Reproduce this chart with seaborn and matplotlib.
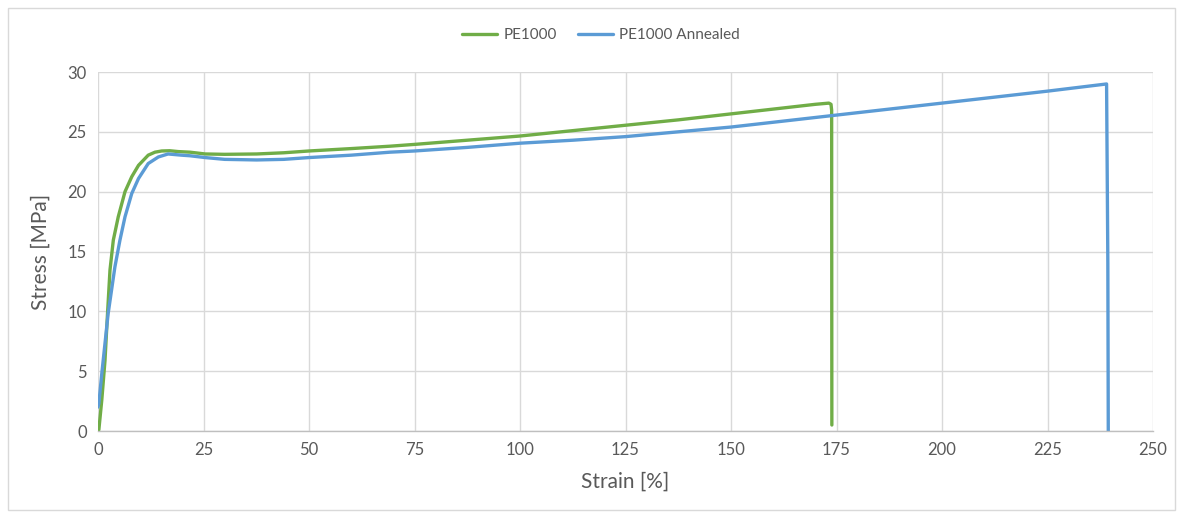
import numpy as np
import pandas as pd
import matplotlib
matplotlib.use("Agg")
import matplotlib.pyplot as plt
import seaborn as sns
from matplotlib.patches import Rectangle

# Data
pe_strain = [0.0, 0.2, 0.9, 1.66, 1.75, 2.3, 2.84, 3.63, 4.8, 6.4, 8.0, 9.6, 11.9, 13.5,
             15.1, 17.0, 19.0, 21.8, 25.4, 30.0, 37.6, 44.0, 50.0, 60.0, 69.2, 75.0, 87.5,
             100.0, 112.5, 125.0, 137.5, 150.0, 162.5, 170.0, 173.2, 173.7, 173.85, 173.9]
pe_stress = [0.0, 0.1, 2.6, 5.9, 6.5, 10.1, 13.45, 15.95, 17.9, 20.0, 21.25, 22.2, 23.05, 23.3,
             23.4, 23.42, 23.35, 23.3, 23.15, 23.12, 23.15, 23.25, 23.4, 23.6, 23.8, 23.95, 24.3,
             24.65, 25.1, 25.55, 26.0, 26.5, 27.0, 27.3, 27.4, 27.3, 26.8, 0.5]

ann_strain = [0.0, 0.2, 0.9, 2.4, 4.0, 5.2, 6.4, 8.0, 9.6, 11.9, 14.3, 16.6, 19.8, 21.8,
              25.4, 30.0, 37.6, 44.0, 50.0, 60.0, 69.2, 75.0, 87.5, 100.0, 112.5, 125.0,
              137.5, 150.0, 155.0, 165.0, 175.0, 200.0, 225.0, 239.0, 239.3, 239.4]
ann_stress = [2.0, 2.3, 4.8, 9.8, 13.7, 15.95, 17.9, 19.85, 21.1, 22.35, 22.9, 23.15, 23.05, 23.0,
              22.85, 22.7, 22.65, 22.7, 22.85, 23.05, 23.3, 23.4, 23.7, 24.05, 24.3, 24.6,
              25.0, 25.4, 25.6, 26.0, 26.4, 27.4, 28.4, 29.0, 14.0, 0.0]

series_names = ["PE1000", "PE1000 Annealed"]

df = pd.concat([
    pd.DataFrame({"Strain": pe_strain, "Stress": pe_stress, "Series": series_names[0]}),
    pd.DataFrame({"Strain": ann_strain, "Stress": ann_stress, "Series": series_names[1]}),
], ignore_index=True)

sns.set_theme(style="white")
plt.rcParams['font.family'] = ['Lato', 'DejaVu Sans']

fig = plt.figure(figsize=(11.83, 5.18), dpi=100)
ax = fig.add_axes([98/1183, 1-431/518, (1153-98)/1183, (431-72)/518])

palette = {"PE1000": "#70AD47", "PE1000 Annealed": "#5B9BD5"}
sns.lineplot(data=df, x="Strain", y="Stress", hue="Series", palette=palette,
             sort=False, estimator=None, linewidth=2.4, ax=ax)
for ln in ax.get_lines():
    ln.set_solid_joinstyle("round")

ax.set_xlim(0, 250)
ax.set_ylim(0, 30)
ax.set_xticks(np.arange(0, 251, 25))
ax.set_yticks(np.arange(0, 31, 5))
ax.grid(True, color="#D9D9D9", linewidth=1.0)
ax.set_axisbelow(True)
for s in ["top", "right", "left"]:
    ax.spines[s].set_visible(False)
ax.spines["bottom"].set_color("#BFBFBF")
ax.spines["bottom"].set_linewidth(1.0)
ax.tick_params(axis="both", length=0, labelsize=12, labelcolor="#595959", pad=8)
ax.set_xlabel("Strain [%]", fontsize=15, color="#595959", labelpad=10)
ax.set_ylabel("Stress [MPa]", fontsize=15, color="#595959", labelpad=12)

leg = ax.legend(loc="center", bbox_to_anchor=(0.5 - 24.5/1055, 1.103), ncol=2,
                frameon=False, fontsize=11, handlelength=2.3, columnspacing=1.4,
                handletextpad=0.4)
for t in leg.get_texts():
    t.set_color("#595959")
for h in leg.get_lines():
    h.set_linewidth(2.4)

fig.patches.append(Rectangle((8/1183, 8/518), 1167/1183, 502/518, transform=fig.transFigure,
                             fill=False, edgecolor="#D9D9D9", linewidth=1.0))

fig.savefig("out.png", dpi=100)
